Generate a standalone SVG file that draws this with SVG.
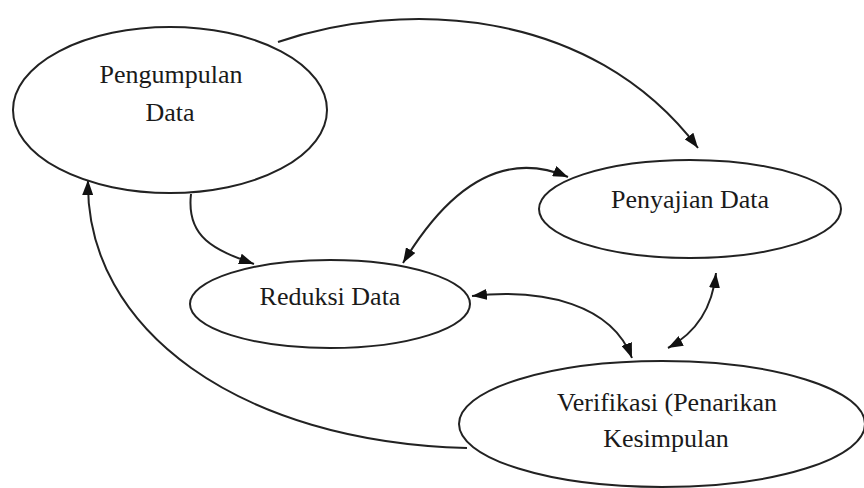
<svg xmlns="http://www.w3.org/2000/svg" width="864" height="488" viewBox="0 0 864 488">
<defs>
<marker id="ah" viewBox="0 0 15 11" refX="15" refY="5.5" markerWidth="15" markerHeight="11" markerUnits="userSpaceOnUse" orient="auto-start-reverse">
<path d="M0,0 L15,5.5 L0,11 Z" fill="#111"/>
</marker>
</defs>
<style>
.node ellipse{fill:#fff;stroke:#222;stroke-width:2}
.node text{font-family:"Liberation Serif","DejaVu Serif",serif;font-size:26px;fill:#1a1a1a;text-anchor:middle}
.edge{fill:none;stroke:#222;stroke-width:2}
</style>
<rect width="864" height="488" fill="#fff"/>
<g id="connectors">
<path class="edge" d="M278,42 C400,0 590,5 698,148" marker-end="url(#ah)"/>
<path class="edge" d="M191,194 C186,238 215,250 254,264" marker-end="url(#ah)"/>
<path class="edge" d="M403,263 C450,185 505,150 568,177" marker-start="url(#ah)" marker-end="url(#ah)"/>
<path class="edge" d="M472,296 C545,288 612,305 632,358" marker-start="url(#ah)" marker-end="url(#ah)"/>
<path class="edge" d="M716,273 C712,312 692,335 668,348" marker-start="url(#ah)" marker-end="url(#ah)"/>
<path class="edge" d="M467,448 C240,442 85,330 88,180" marker-end="url(#ah)"/>
</g>
<g id="pengumpulan" class="node">
<ellipse cx="170" cy="110" rx="157" ry="83"/>
<text x="171" y="83">Pengumpulan</text>
<text x="170" y="121">Data</text>
</g>
<g id="penyajian" class="node">
<ellipse cx="690" cy="209" rx="151" ry="49"/>
<text x="690" y="208">Penyajian Data</text>
</g>
<g id="reduksi" class="node">
<ellipse cx="330" cy="304" rx="140" ry="44"/>
<text x="330" y="305">Reduksi Data</text>
</g>
<g id="verifikasi" class="node">
<ellipse cx="662" cy="424" rx="203" ry="63"/>
<text x="667" y="411">Verifikasi (Penarikan</text>
<text x="666" y="447">Kesimpulan</text>
</g>
</svg>
